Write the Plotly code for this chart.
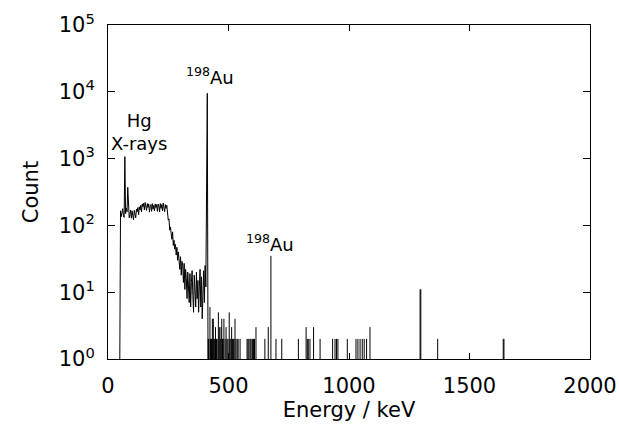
import numpy as np
import plotly.graph_objects as go

# Low-energy part of the gamma spectrum: 3 keV channels starting at 49 keV
channel_start_keV = 49
channel_width_keV = 3
continuum_counts = [
    1, 165, 135, 150, 178, 140, 132, 1070, 150, 182,
    160, 372, 175, 130, 145, 170, 128, 165, 140, 122,
    168, 150, 130, 175, 160, 185, 145, 190, 170, 200,
    160, 210, 190, 215, 170, 220, 200, 168, 212, 185,
    210, 158, 190, 205, 162, 212, 175, 200, 165, 210,
    185, 205, 162, 208, 195, 160, 212, 180, 205, 165,
    215, 190, 160, 205, 180, 200, 150, 120, 125, 85,
    95, 70, 62, 80, 50, 60, 44, 52, 36, 47,
    30, 40, 26, 22, 34, 18, 29, 25, 14, 27,
    11, 22, 16, 8, 20, 12, 7, 19, 6, 14,
    21, 9, 5, 18, 11, 6, 20, 8, 15, 5,
    12, 22, 6, 17, 4, 10, 21, 7, 25, 12,
    340, 9500, 1,
]

# Isolated channels above the 412 keV line (energy in keV, counts)
event_energy = [
    416, 418, 423, 425, 428, 430, 433, 435, 437, 440,
    443, 446, 450, 453, 458, 462, 466, 469, 472, 475,
    478, 481, 486, 490, 494, 498, 503, 506, 510, 513,
    517, 520, 523, 527, 531, 536, 540, 548, 577, 581,
    585, 590, 594, 600, 604, 608, 614, 651, 665, 676,
    697, 721, 790, 822, 827, 831, 838, 853, 880, 932,
    942, 948, 954, 993, 1029, 1037, 1046, 1055, 1063, 1073,
    1087, 1295, 1298, 1368, 1640, 1643,
]
event_counts = [
    2, 2, 6, 2, 2, 2, 4, 2, 4, 2,
    2, 3, 2, 2, 5, 3, 2, 3, 4, 2,
    2, 4, 2, 3, 2, 2, 5, 2, 2, 3,
    2, 2, 2, 4, 2, 2, 2, 2, 2, 2,
    2, 2, 2, 2, 2, 2, 3, 2, 3, 35,
    2, 2, 2, 3, 2, 2, 2, 3, 2, 2,
    2, 2, 2, 2, 2, 2, 2, 2, 2, 2,
    3, 11, 11, 2, 2, 2,
]

x_tickvals = [0, 500, 1000, 1500, 2000]
y_tickvals = [1, 10, 100, 1000, 10000, 100000]
y_ticktext = ["10<sup>0</sup>", "10<sup>1</sup>", "10<sup>2</sup>",
              "10<sup>3</sup>", "10<sup>4</sup>", "10<sup>5</sup>"]

continuum_energy = channel_start_keV + channel_width_keV * np.arange(len(continuum_counts))

# Each isolated channel is drawn as a stick rising from the 1-count floor
stick_x, stick_y = [], []
for e, c in zip(event_energy, event_counts):
    stick_x += [e, e, None]
    stick_y += [1, c, None]

FONT = "DejaVu Sans"

fig = go.Figure()
fig.add_trace(go.Scatter(
    x=continuum_energy, y=continuum_counts, mode="lines",
    line=dict(color="black", width=1), showlegend=False, hoverinfo="skip",
))
fig.add_trace(go.Scatter(
    x=stick_x, y=stick_y, mode="lines",
    line=dict(color="black", width=1), showlegend=False, hoverinfo="skip",
))

annots = [
    dict(x=129, y=3.40, text="Hg<br>X-rays"),
    dict(x=425, y=4.24, text="<sup>198</sup>Au"),
    dict(x=672, y=1.74, text="<sup>198</sup>Au"),
]
for a in annots:
    fig.add_annotation(
        x=a["x"], y=a["y"], text=a["text"], showarrow=False,
        xanchor="center", yanchor="middle",
        font=dict(family=FONT, size=18, color="black"),
    )

fig.update_layout(
    width=619, height=429,
    margin=dict(l=108, r=29, t=25, b=70, autoexpand=False),
    paper_bgcolor="white", plot_bgcolor="white",
    font=dict(family=FONT, size=21, color="black"),
)
fig.update_xaxes(
    range=[0, 2000], tickvals=x_tickvals, automargin=False,
    ticks="inside", ticklen=6, tickcolor="black",
    showline=True, linecolor="black", linewidth=1, mirror="ticks",
    showgrid=False, zeroline=False,
    ticklabelstandoff=8,
    title=dict(text="Energy / keV", standoff=4, font=dict(size=21)),
    tickfont=dict(size=21),
)
fig.update_yaxes(
    type="log", range=[0, 5], tickvals=y_tickvals, ticktext=y_ticktext,
    automargin=False,
    ticks="inside", ticklen=7, tickcolor="black",
    showline=True, linecolor="black", linewidth=1, mirror="ticks",
    showgrid=False, zeroline=False,
    ticklabelstandoff=8,
    title=dict(text="Count", standoff=14, font=dict(size=21)),
    tickfont=dict(size=21),
)

fig.write_html("out.html")
